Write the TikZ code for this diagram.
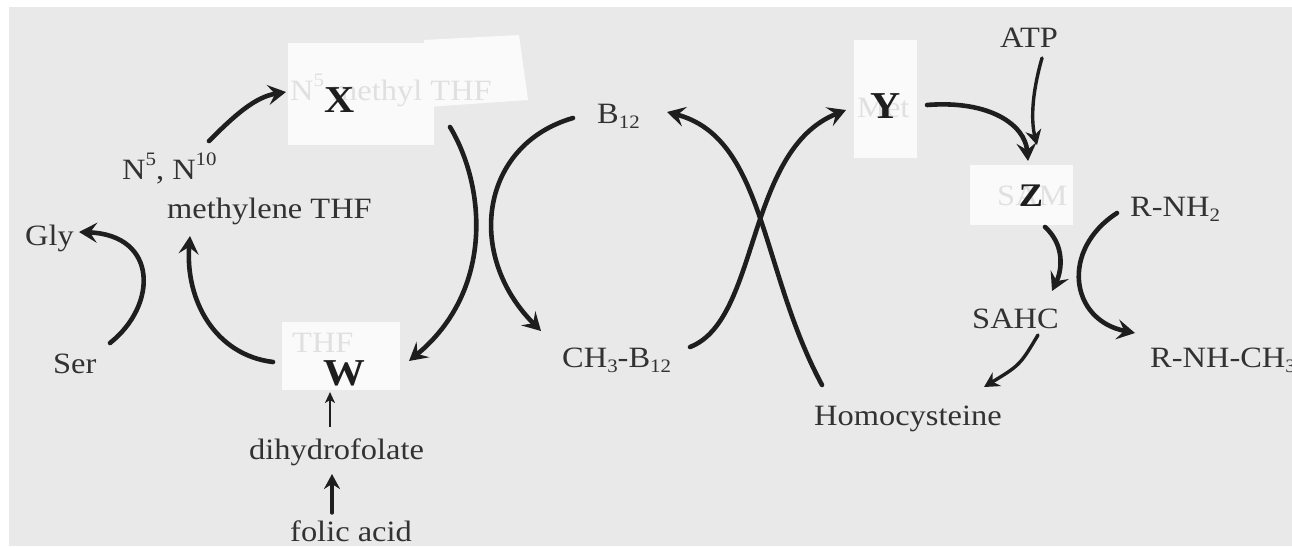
\documentclass[tikz,border=0pt]{standalone}
\usepackage{fontspec}
\setmainfont{Liberation Serif}[FakeStretch=1.1]
\usetikzlibrary{arrows.meta}
\definecolor{bg}{RGB}{233,233,233}
\definecolor{patch}{RGB}{250,250,250}
\definecolor{ink}{RGB}{30,30,30}
\definecolor{txt}{RGB}{50,50,50}
\definecolor{ghostc}{RGB}{224,224,224}
\newcommand{\lsub}[1]{\raisebox{-0.2em}{\fontsize{19}{19}\selectfont #1}}
\newcommand{\lsup}[1]{\raisebox{0.45em}{\fontsize{19}{19}\selectfont #1}}
\begin{document}
\begin{tikzpicture}[x=1pt,y=-1pt,
  lbl/.style={inner sep=0pt, text=txt, font=\fontsize{29.5}{32}\selectfont},
  ghost/.style={inner sep=0pt, text=ghostc, font=\fontsize{29.5}{32}\selectfont},
  big/.style={inner sep=0pt, text=ink, font=\fontsize{38}{40}\selectfont\bfseries},
  patchbox/.style={fill=patch, draw=none},
  flow/.style={draw=ink, line width=4.6pt, line cap=round, -{Stealth[length=18pt,width=20pt,inset=7pt]}},
  thinflow/.style={draw=ink, line width=2.2pt, -{Stealth[length=11pt,width=10pt,inset=3pt]}},
  midflow/.style={draw=ink, line width=3.4pt, line cap=round, -{Stealth[length=15pt,width=16pt,inset=5pt]}}]
\useasboundingbox (0,0) rectangle (1292,546);
\fill[white] (0,0) rectangle (1292,546);
\fill[bg] (9,7) rectangle (1292,546);

% paper patches
\fill[patchbox] (288,43) rectangle (434,145);
\fill[patchbox] (424,40) -- (519,35) -- (528,100) -- (427,107) -- cycle;
\fill[patchbox] (854,40) rectangle (917,158);
\fill[patchbox] (970,165) rectangle (1073,225);
\fill[patchbox] (282,322) rectangle (400,390);

% ghost texts showing through the patches
\node[ghost, anchor=base west] (g1) at (290,100) {N\lsup{5} methyl THF};
\node[ghost, anchor=base west] (g2) at (857,117) {Met};
\node[ghost, anchor=base west] (g3) at (997,205) {SAM};
\node[ghost, anchor=base west] (g4) at (292,352) {THF};

% big letters
\node[big, anchor=base] (X) at (340,112) {X};
\node[big, anchor=base] (Y) at (886,118) {Y};
\node[big, anchor=base, font=\fontsize{33}{35}\selectfont\bfseries] (Z) at (1031,206) {Z};
\node[big, anchor=base] (W) at (344,385) {W};

% labels
\node[lbl, anchor=base west] (gly) at (25,245) {Gly};
\node[lbl, anchor=base west] (ser) at (53,373) {Ser};
\node[lbl, anchor=base west] (n510) at (122,179) {N\lsup{5}, N\lsup{10}};
\node[lbl, anchor=base west] (mthf) at (167,218) {methylene THF};
\node[lbl, anchor=base west] (b12) at (597,123) {B\lsub{12}};
\node[lbl, anchor=base west] (ch3b12) at (562,367) {CH\lsub{3}-B\lsub{12}};
\node[lbl, anchor=base west] (atp) at (1000,47) {ATP};
\node[lbl, anchor=base west] (rnh2) at (1130,216) {R-NH\lsub{2}};
\node[lbl, anchor=base west] (sahc) at (972,328) {SAHC};
\node[lbl, anchor=base west] (rnhch3) at (1150,367) {R-NH-CH\lsub{3}};
\node[lbl, anchor=base west] (hcy) at (814,425) {Homocysteine};
\node[lbl, anchor=base west] (dhf) at (249,459) {dihydrofolate};
\node[lbl, anchor=base west] (fa) at (290,541) {folic acid};

% connector end points
\coordinate (serTop) at (110,343);
\coordinate (glyEnd) at (79,232);
\coordinate (wLeft) at (273,362);
\coordinate (mthfBot) at (190,236);
\coordinate (nTop) at (209,141);
\coordinate (xIn) at (286,92);
\coordinate (aStart) at (450,127);
\coordinate (wRight) at (409,361);
\coordinate (b12Left) at (573,118);
\coordinate (ch3Top) at (541,331);
\coordinate (ch3Right) at (690,347);
\coordinate (yIn) at (846,110);
\coordinate (hcyTop) at (822,385);
\coordinate (b12Right) at (667,112);
\coordinate (yOut) at (927,105);
\coordinate (zTop) at (1028,161);
\coordinate (atpBot) at (1042,58);
\coordinate (zIn) at (1037,145);
\coordinate (zBot) at (1045,227);
\coordinate (sahcTop) at (1052,291);
\coordinate (rnh2Left) at (1117,213);
\coordinate (rnhch3In) at (1135,333);
\coordinate (sahcBot) at (1038,335);
\coordinate (hcyIn) at (984,387);
\coordinate (dhfTop) at (330,427);
\coordinate (wBot) at (330,392);
\coordinate (faTop) at (332,513);
\coordinate (dhfBot) at (332,474);

% connectors
\draw[flow] (serTop) .. controls (158,305) and (158,235) .. (glyEnd);
\draw[flow] (wLeft) .. controls (215,355) and (185,300) .. (mthfBot);
\draw[flow] (nTop) .. controls (235,115) and (255,97) .. (xIn);
\draw[flow] (aStart) .. controls (485,185) and (495,290) .. (wRight);
\draw[flow] (b12Left) .. controls (480,145) and (465,255) .. (ch3Top);
\draw[flow] (ch3Right) .. controls (760,320) and (745,150) .. (yIn);
\draw[flow] (hcyTop) .. controls (760,270) and (765,138) .. (b12Right);
\draw[flow] (yOut) .. controls (990,100) and (1025,125) .. (zTop);
\draw[midflow] (atpBot) .. controls (1030,100) and (1032,125) .. (zIn);
\draw[flow] (zBot) .. controls (1065,245) and (1062,270) .. (sahcTop);
\draw[flow] (rnh2Left) .. controls (1060,250) and (1070,320) .. (rnhch3In);
\draw[midflow] (sahcBot) .. controls (1020,365) .. (hcyIn);
\draw[thinflow] (dhfTop) -- (wBot);
\draw[midflow] (faTop) -- (dhfBot);
\end{tikzpicture}
\end{document}
